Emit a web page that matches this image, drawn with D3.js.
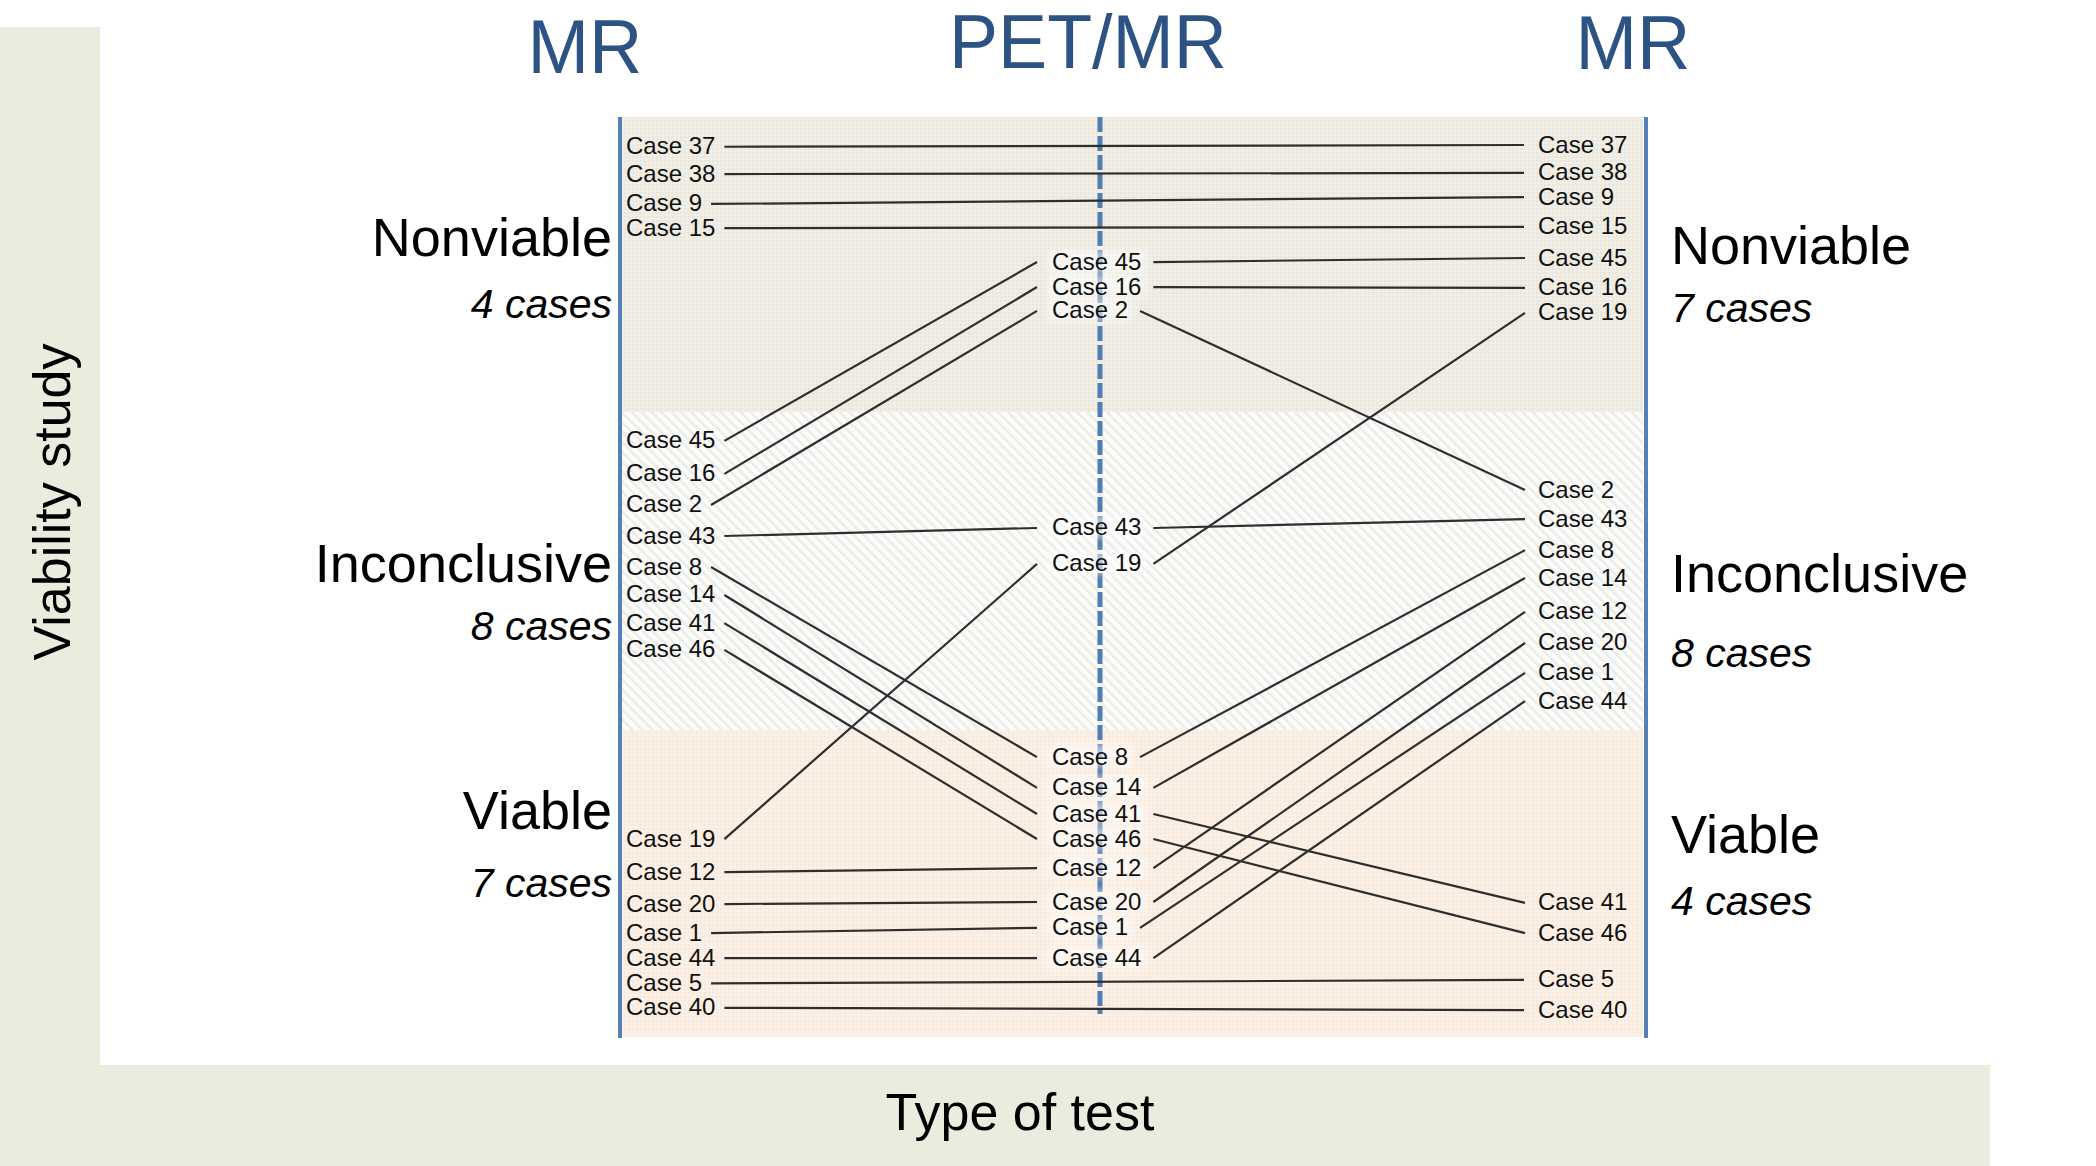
<!DOCTYPE html>
<html>
<head>
<meta charset="utf-8">
<script src="https://cdn.jsdelivr.net/npm/d3@7"></script>
<style>
  html, body { margin: 0; padding: 0; background: #ffffff; }
  svg { display: block; }
  text { font-family: "Liberation Sans", Arial, Helvetica, sans-serif; }
</style>
</head>
<body>
<script>
// ---------------- DATA ----------------
const columnTitles = ["MR", "PET/MR", "MR"];
const categories = ["Nonviable", "Inconclusive", "Viable"];
const baselineCounts = [4, 8, 7];
const followCounts = [7, 8, 4];

// Column 1: MR (baseline) — case ids in vertical order and their row positions
const mrBaselineCases = [37, 38, 9, 15, 45, 16, 2, 43, 8, 14, 41, 46, 19, 12, 20, 1, 44, 5, 40];
const mrBaselineRows  = [1.0, 1.95, 2.99, 3.83, 11.23, 12.38, 13.46, 14.54, 15.62, 16.59, 17.57, 18.5,
                         25.08, 26.23, 27.34, 28.35, 29.22, 30.1, 30.95];

// Column 2: PET/MR
const petCases = [45, 16, 2, 43, 19, 8, 14, 41, 46, 12, 20, 1, 44];
const petRows  = [5.01, 5.88, 6.71, 14.26, 15.51, 22.23, 23.30, 24.21, 25.08, 26.09, 27.27, 28.17, 29.22];

// Column 3: MR (follow-up)
const mrFollowCases = [37, 38, 9, 15, 45, 16, 19, 2, 43, 8, 14, 12, 20, 1, 44, 41, 46, 5, 40];
const mrFollowRows  = [0.94, 1.91, 2.75, 3.79, 4.87, 5.91, 6.78, 12.94, 13.95, 15.03, 16.0, 17.18,
                       18.26, 19.30, 20.28, 27.30, 28.35, 29.98, 31.03];

// Category band boundaries (in rows)
const bandEdges = [0, 10.26, 21.32, 32];

// ---------------- LAYOUT ----------------
const W = 2096, H = 1166;
const y = d3.scaleLinear().domain([0, 32]).range([117, 1037]);
const colLine = { left: 620, mid: 1100, right: 1646 };
const labelX = { left: 626, mid: 1052, right: 1538 };
const titleX = [585, 1088, 1633];
const titleBaseline = [73, 68, 69];
const bandFills = ["url(#pNon)", "url(#pInc)", "url(#pVia)"];
// category label rows (name baseline, count baseline) for left and right sides
const leftCatRows = [[4.83, 6.99], [16.17, 18.19], [24.77, 27.13]];
const rightCatRows = [[5.11, 7.13], [16.52, 19.13], [25.6, 27.76]];

const svg = d3.select("body").append("svg").attr("width", W).attr("height", H);
const defs = svg.append("defs");

// patterns
const pNon = defs.append("pattern").attr("id", "pNon").attr("patternUnits", "userSpaceOnUse")
  .attr("width", 4).attr("height", 4);
pNon.append("rect").attr("width", 4).attr("height", 4).attr("fill", "#efece3");
pNon.append("circle").attr("cx", 1).attr("cy", 1).attr("r", 0.8).attr("fill", "#e4e0d5");
pNon.append("circle").attr("cx", 3).attr("cy", 3).attr("r", 0.8).attr("fill", "#f6f4ee");

const pInc = defs.append("pattern").attr("id", "pInc").attr("patternUnits", "userSpaceOnUse")
  .attr("width", 7).attr("height", 7).attr("patternTransform", "rotate(-45)");
pInc.append("rect").attr("width", 7).attr("height", 7).attr("fill", "#fcfcfb");
pInc.append("rect").attr("width", 2.5).attr("height", 7).attr("fill", "#ebebe8");

const pVia = defs.append("pattern").attr("id", "pVia").attr("patternUnits", "userSpaceOnUse")
  .attr("width", 4).attr("height", 4);
pVia.append("rect").attr("width", 4).attr("height", 4).attr("fill", "#fbeee3");
pVia.append("circle").attr("cx", 1).attr("cy", 1).attr("r", 0.8).attr("fill", "#f5e4d6");
pVia.append("circle").attr("cx", 3).attr("cy", 3).attr("r", 0.8).attr("fill", "#fdf5ef");

const blur = defs.append("filter").attr("id", "glow").attr("x", "-20%").attr("y", "-50%")
  .attr("width", "140%").attr("height", "200%");
blur.append("feGaussianBlur").attr("stdDeviation", 3);

// green frame strips
svg.append("rect").attr("x", 0).attr("y", 27).attr("width", 100).attr("height", H - 27).attr("fill", "#eaeddd");
svg.append("rect").attr("x", 0).attr("y", 1065).attr("width", 1990).attr("height", H - 1065).attr("fill", "#eaeddd");

// axis titles
svg.append("text").attr("transform", "translate(70,502) rotate(-90)")
  .attr("text-anchor", "middle").attr("font-size", 52).attr("fill", "#000")
  .text("Viability study");
svg.append("text").attr("x", 1020).attr("y", 1130)
  .attr("text-anchor", "middle").attr("font-size", 52).attr("fill", "#000")
  .text("Type of test");

// bands
svg.append("g").selectAll("rect").data(categories).join("rect")
  .attr("x", colLine.left).attr("width", colLine.right - colLine.left - 3)
  .attr("y", (d, i) => y(bandEdges[i]))
  .attr("height", (d, i) => y(bandEdges[i + 1]) - y(bandEdges[i]))
  .attr("fill", (d, i) => bandFills[i]);

// column titles
svg.append("g").selectAll("text").data(columnTitles).join("text")
  .attr("x", (d, i) => titleX[i]).attr("y", (d, i) => titleBaseline[i])
  .attr("text-anchor", "middle").attr("font-size", 76).attr("fill", "#2d5284")
  .attr("textLength", (d, i) => [115, 278, 115][i]).attr("lengthAdjust", "spacingAndGlyphs")
  .text(d => d);

// vertical column lines
svg.append("line").attr("x1", colLine.left).attr("x2", colLine.left)
  .attr("y1", y(0)).attr("y2", y(32) + 1).attr("stroke", "#5581b6").attr("stroke-width", 4);
svg.append("line").attr("x1", colLine.right).attr("x2", colLine.right)
  .attr("y1", y(0)).attr("y2", y(32) + 1).attr("stroke", "#5581b6").attr("stroke-width", 4);
svg.append("line").attr("x1", colLine.mid).attr("x2", colLine.mid)
  .attr("y1", y(0)).attr("y2", y(31.2)).attr("stroke", "#4f7db4").attr("stroke-width", 5)
  .attr("stroke-dasharray", "15,4");

// category labels
function catLabels(counts, rows, x, anchor) {
  const g = svg.append("g");
  categories.forEach((c, i) => {
    g.append("text").attr("x", x).attr("y", y(rows[i][0])).attr("text-anchor", anchor)
      .attr("font-size", 54).attr("fill", "#000").text(c);
    g.append("text").attr("x", x).attr("y", y(rows[i][1])).attr("text-anchor", anchor)
      .attr("font-size", 41).attr("font-style", "italic").attr("fill", "#000")
      .text(counts[i] + " cases");
  });
}
catLabels(baselineCounts, leftCatRows, 612, "end");
catLabels(followCounts, rightCatRows, 1671, "start");

// case labels
const CASE_FS = 24;
const mkCol = (cases, rows) => cases.map((c, i) => ({ id: c, row: rows[i] }));
const colA = mkCol(mrBaselineCases, mrBaselineRows);
const colB = mkCol(petCases, petRows);
const colC = mkCol(mrFollowCases, mrFollowRows);

const glowG = svg.append("g");
const lineG = svg.append("g");
const labelG = svg.append("g");

function drawLabels(data, x) {
  const m = new Map();
  labelG.append("g").selectAll("text").data(data).join("text")
    .attr("x", x).attr("y", d => y(d.row) + 8.5)
    .attr("font-size", CASE_FS).attr("fill", "#111")
    .text(d => "Case " + d.id)
    .each(function (d) { m.set(d.id, { row: d.row, w: this.getComputedTextLength() }); });
  return m;
}
const A = drawLabels(colA, labelX.left);
const B = drawLabels(colB, labelX.mid);
const C = drawLabels(colC, labelX.right);

// soft white glow behind PET/MR labels
glowG.selectAll("rect").data(colB).join("rect")
  .attr("x", labelX.mid - 4).attr("y", d => y(d.row) - 11)
  .attr("width", d => B.get(d.id).w + 8).attr("height", 22)
  .attr("fill", "#ffffff").attr("opacity", 0.55).attr("filter", "url(#glow)");

// connecting lines
const segs = [];
colA.forEach(d => {
  const a = A.get(d.id);
  if (B.has(d.id)) {
    segs.push({ x1: labelX.left + a.w + 9, y1: a.row, x2: labelX.mid - 15, y2: B.get(d.id).row });
  } else {
    segs.push({ x1: labelX.left + a.w + 9, y1: a.row, x2: labelX.right - 14, y2: C.get(d.id).row });
  }
});
colB.forEach(d => {
  const b = B.get(d.id);
  segs.push({ x1: labelX.mid + b.w + 12, y1: b.row, x2: labelX.right - 13, y2: C.get(d.id).row });
});
lineG.selectAll("line").data(segs).join("line")
  .attr("x1", d => d.x1).attr("x2", d => d.x2)
  .attr("y1", d => y(d.y1) + 1).attr("y2", d => y(d.y2) + 1)
  .attr("stroke", "#2e2e2e").attr("stroke-width", 2.2);
</script>
</body>
</html>
